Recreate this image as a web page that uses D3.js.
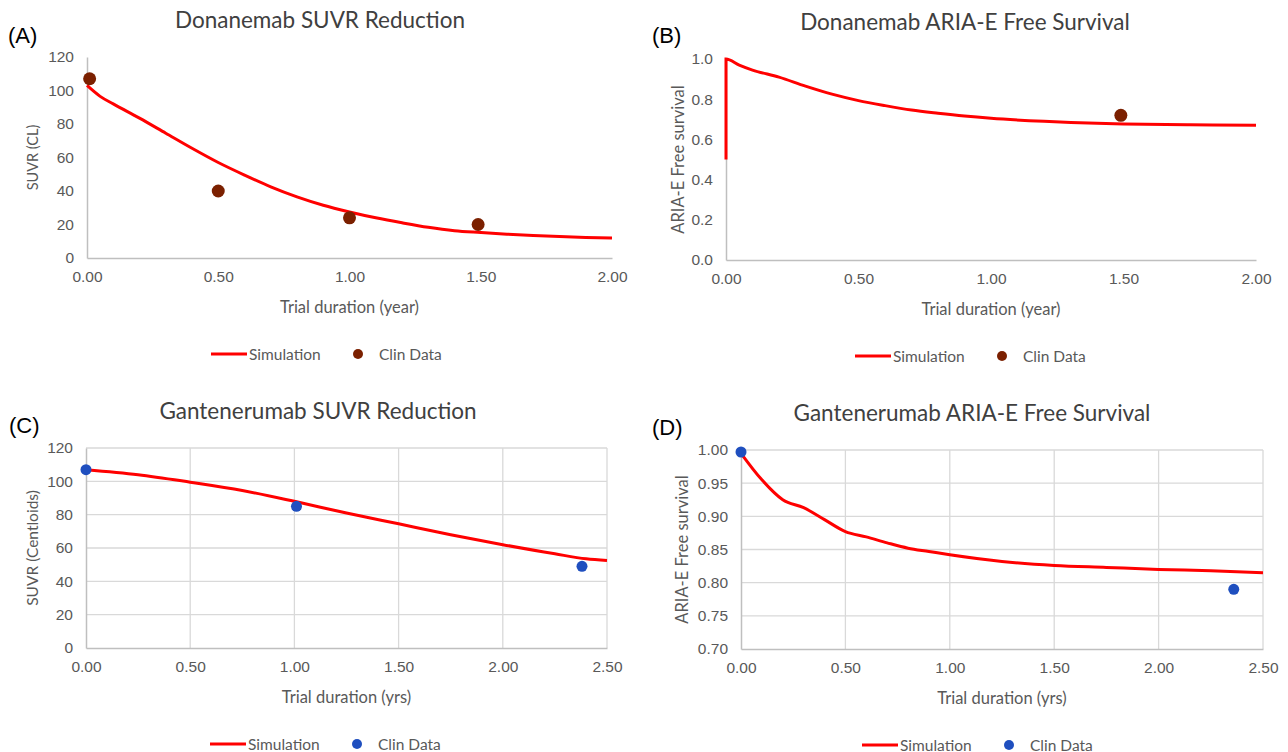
<!DOCTYPE html>
<html>
<head>
<meta charset="utf-8">
<script src="https://cdn.jsdelivr.net/npm/d3@7"></script>
<style>
  body { margin: 0; background: #fff; }
  svg { font-family: Lato, "Open Sans", sans-serif; }
</style>
</head>
<body>
<div id="chart"></div>
<script>
const width = 1288;
const height = 752;

// (A) Donanemab SUVR
const simA_t = [0, 0.05, 0.1, 0.2, 0.3, 0.4, 0.5, 0.6, 0.7, 0.8, 0.9, 1.0, 1.1, 1.2, 1.3, 1.4, 1.5, 1.6, 1.7, 1.8, 1.9, 2.0];
const simA_v = [103, 96.5, 92, 83.5, 74.5, 65.5, 57, 49.5, 42.5, 36.5, 31.5, 27.5, 24, 21, 18.3, 16.3, 15.2, 14.2, 13.4, 12.8, 12.3, 12];
const clinA_t = [0.01, 0.5, 1.0, 1.49];
const clinA_v = [107, 40, 24, 20];

// (B) Donanemab ARIA-E free survival
const simB_t = [0, 0, 0.05, 0.1, 0.2, 0.3, 0.4, 0.5, 0.6, 0.7, 0.8, 0.9, 1.0, 1.2, 1.4, 1.5, 1.75, 2.0];
const simB_v = [0.5, 1.0, 0.97, 0.945, 0.91, 0.865, 0.825, 0.793, 0.768, 0.746, 0.73, 0.716, 0.705, 0.69, 0.68, 0.677, 0.673, 0.67];
const clinB_t = [1.49];
const clinB_v = [0.72];

// (C) Gantenerumab SUVR
const simC_t = [0, 0.25, 0.5, 0.75, 1.0, 1.25, 1.5, 1.75, 2.0, 2.25, 2.4, 2.5];
const simC_v = [107, 104, 99.5, 94.5, 88, 81, 74.5, 68, 62, 56.5, 53.5, 52.5];
const clinC_t = [0, 1.01, 2.38];
const clinC_v = [107, 85, 49];

// (D) Gantenerumab ARIA-E free survival
const simD_t = [0, 0.1, 0.2, 0.3, 0.4, 0.5, 0.6, 0.7, 0.8, 0.9, 1.0, 1.25, 1.5, 1.75, 2.0, 2.25, 2.5];
const simD_v = [0.995, 0.955, 0.925, 0.913, 0.895, 0.877, 0.869, 0.86, 0.852, 0.847, 0.842, 0.832, 0.826, 0.823, 0.82, 0.818, 0.815];
const clinD_t = [0, 2.36];
const clinD_v = [0.997, 0.79];

const panels = [
  { tag: '(A)', title: 'Donanemab SUVR Reduction', ylabel: 'SUVR (CL)', xlabel: 'Trial duration (year)',
    sim: d3.zip(simA_t, simA_v), clin: d3.zip(clinA_t, clinA_v),
    x0: 87, x1: 612, y0: 258, y1: 57, xmax: 2, ydom: [0, 120], yticks: d3.range(0, 121, 20), yfmt: d3.format('d'),
    grid: false, dot: '#7b2000', r: 6.5, titleX: 320, titleY: 28, legendY: 354, legendX: 211, tagX: 8, tagY: 43,
    ylabX: 38, ylabSize: 14.5 },
  { tag: '(B)', title: 'Donanemab ARIA-E Free Survival', ylabel: 'ARIA-E Free survival', xlabel: 'Trial duration (year)',
    sim: d3.zip(simB_t, simB_v), clin: d3.zip(clinB_t, clinB_v),
    x0: 726, x1: 1256, y0: 260, y1: 59, xmax: 2, ydom: [0, 1], yticks: d3.range(0, 1.01, 0.2), yfmt: d3.format('.1f'),
    grid: false, dot: '#7b2000', r: 6.5, titleX: 965, titleY: 30, legendY: 356, legendX: 855, tagX: 652, tagY: 43,
    ylabX: 684, ylabSize: 16.5 },
  { tag: '(C)', title: 'Gantenerumab SUVR Reduction', ylabel: 'SUVR (Centloids)', xlabel: 'Trial duration (yrs)',
    sim: d3.zip(simC_t, simC_v), clin: d3.zip(clinC_t, clinC_v),
    x0: 86, x1: 607, y0: 648, y1: 448, xmax: 2.5, ydom: [0, 120], yticks: d3.range(0, 121, 20), yfmt: d3.format('d'),
    grid: true, dot: '#1f4fbf', r: 5.5, titleX: 318, titleY: 419, legendY: 744, legendX: 210, tagX: 9, tagY: 433,
    ylabX: 38, ylabSize: 15.5 },
  { tag: '(D)', title: 'Gantenerumab ARIA-E Free Survival', ylabel: 'ARIA-E Free survival', xlabel: 'Trial duration (yrs)',
    sim: d3.zip(simD_t, simD_v), clin: d3.zip(clinD_t, clinD_v),
    x0: 741, x1: 1263, y0: 649, y1: 450, xmax: 2.5, ydom: [0.7, 1.0], yticks: d3.range(0.7, 1.001, 0.05), yfmt: d3.format('.2f'),
    grid: true, dot: '#1f4fbf', r: 5.5, titleX: 972, titleY: 421, legendY: 745, legendX: 862, tagX: 652, tagY: 435,
    ylabX: 688, ylabSize: 16.5 }
];

const svg = d3.select('#chart').append('svg')
  .attr('width', width)
  .attr('height', height);

const textColor = '#595959';
const axisColor = '#bfbfbf';
const gridColor = '#d9d9d9';

panels.forEach(function (p) {
  const g = svg.append('g');
  const xScale = d3.scaleLinear().domain([0, p.xmax]).range([p.x0, p.x1]);
  const yScale = d3.scaleLinear().domain(p.ydom).range([p.y0, p.y1]);
  const xticks = d3.range(0, p.xmax + 0.001, 0.5);

  // gridlines
  if (p.grid) {
    g.append('g').selectAll('line.h').data(p.yticks.slice(1)).enter().append('line')
      .attr('x1', p.x0).attr('x2', p.x1)
      .attr('y1', d => yScale(d)).attr('y2', d => yScale(d))
      .attr('stroke', gridColor).attr('stroke-width', 1.3);
    g.append('g').selectAll('line.v').data(xticks.slice(1)).enter().append('line')
      .attr('x1', d => xScale(d)).attr('x2', d => xScale(d))
      .attr('y1', p.y0).attr('y2', p.y1)
      .attr('stroke', gridColor).attr('stroke-width', 1.3);
  }

  // axes
  const xAxis = g.append('g').attr('transform', `translate(0,${p.y0})`)
    .call(d3.axisBottom(xScale).tickValues(xticks).tickFormat(d3.format('.2f')).tickSize(0).tickPadding(13));
  const yAxis = g.append('g').attr('transform', `translate(${p.x0},0)`)
    .call(d3.axisLeft(yScale).tickValues(p.yticks).tickFormat(p.yfmt).tickSize(0).tickPadding(13));
  [xAxis, yAxis].forEach(a => {
    a.select('.domain').attr('stroke', axisColor).attr('stroke-width', 1.5);
    a.selectAll('text').attr('fill', textColor).attr('font-size', 15.5);
  });

  // simulation line
  const line = d3.line()
    .x(d => xScale(d[0]))
    .y(d => yScale(d[1]))
    .curve(d3.curveMonotoneX);
  g.append('path').datum(p.sim)
    .attr('d', line)
    .attr('fill', 'none')
    .attr('stroke', '#ff0000')
    .attr('stroke-width', 3);

  // clinical data
  g.selectAll('circle.clin').data(p.clin).enter().append('circle')
    .attr('cx', d => xScale(d[0]))
    .attr('cy', d => yScale(d[1]))
    .attr('r', p.r)
    .attr('fill', p.dot);

  // titles
  g.append('text').attr('x', p.titleX).attr('y', p.titleY)
    .attr('text-anchor', 'middle').attr('font-size', 22.5).attr('fill', '#404040')
    .text(p.title);
  g.append('text').attr('x', p.tagX).attr('y', p.tagY)
    .attr('font-size', 22).attr('fill', '#000').attr('font-family', 'Liberation Sans, Arial, sans-serif')
    .text(p.tag);
  g.append('text').attr('x', (p.x0 + p.x1) / 2).attr('y', p.y0 + 55)
    .attr('text-anchor', 'middle').attr('font-size', 16.5).attr('fill', textColor)
    .text(p.xlabel);
  g.append('text')
    .attr('transform', `translate(${p.ylabX},${(p.y0 + p.y1) / 2}) rotate(-90)`)
    .attr('text-anchor', 'middle').attr('font-size', p.ylabSize).attr('fill', textColor)
    .text(p.ylabel);

  // legend
  const lg = g.append('g').attr('transform', `translate(${p.legendX},${p.legendY})`);
  lg.append('line').attr('x1', 0).attr('x2', 36).attr('y1', 0).attr('y2', 0)
    .attr('stroke', '#ff0000').attr('stroke-width', 3);
  lg.append('text').attr('x', 38).attr('y', 5.5).attr('font-size', 15.5).attr('fill', textColor).text('Simulation');
  lg.append('circle').attr('cx', 147).attr('cy', 0).attr('r', 5).attr('fill', p.dot);
  lg.append('text').attr('x', 168).attr('y', 5.5).attr('font-size', 15.5).attr('fill', textColor).text('Clin Data');
});
</script>
</body>
</html>
